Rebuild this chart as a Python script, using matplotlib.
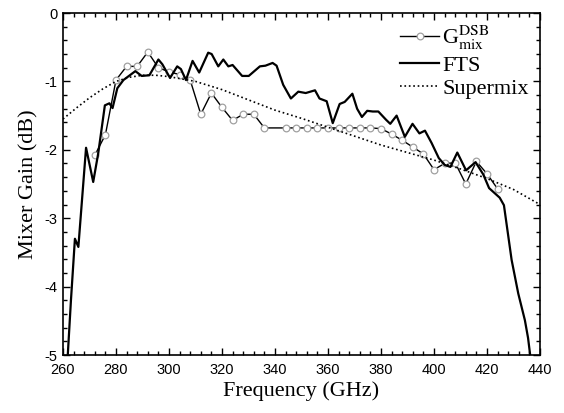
import numpy as np
import matplotlib
matplotlib.use("Agg")
import matplotlib.pyplot as plt
from matplotlib.ticker import MultipleLocator

# Gmix DSB (measured points, 4 GHz step)
g_freq = [272, 276, 280, 284, 288, 292, 296, 300, 304, 308, 312, 316, 320, 324,
          328, 332, 336, 344, 348, 352, 356, 360, 364, 368, 372, 376, 380, 384,
          388, 392, 396, 400, 404, 408, 412, 416, 420, 424]
g_gain = [-2.08, -1.78, -0.98, -0.78, -0.78, -0.57, -0.80, -0.86, -0.90, -0.98,
          -1.48, -1.17, -1.38, -1.57, -1.48, -1.48, -1.68, -1.68, -1.68, -1.68,
          -1.68, -1.68, -1.68, -1.68, -1.68, -1.68, -1.69, -1.77, -1.86, -1.96,
          -2.06, -2.29, -2.20, -2.19, -2.50, -2.17, -2.35, -2.57]

# FTS curve
fts_freq = [261.8, 263.0, 264.5, 265.8, 268.7, 271.4, 273.3, 275.8, 277.5, 278.7,
            280.5, 282.8, 287.3, 289.7, 292.6, 296.0, 297.5, 300.4, 303.1, 304.5,
            306.4, 308.9, 311.4, 314.8, 316.1, 318.6, 320.5, 322.4, 324.0, 327.6,
            330.1, 334.3, 336.4, 339.1, 340.6, 343.1, 346.0, 348.8, 351.6, 355.1,
            356.8, 359.5, 361.8, 364.4, 366.3, 369.2, 371.0, 372.8, 374.8, 376.9,
            379.0, 381.9, 383.5, 385.9, 389.0, 391.9, 394.5, 396.6, 399.1, 401.8,
            404.0, 406.2, 408.8, 412.1, 415.7, 418.6, 420.8, 424.8, 426.4, 429.3,
            431.8, 434.3, 435.5, 436.3]
fts_gain = [-5.0, -4.2, -3.3, -3.42, -1.97, -2.47, -2.05, -1.35, -1.32, -1.39,
            -1.1, -0.98, -0.85, -0.92, -0.91, -0.68, -0.75, -0.95, -0.78, -0.82,
            -0.98, -0.70, -0.87, -0.58, -0.60, -0.78, -0.68, -0.78, -0.76, -0.92,
            -0.92, -0.78, -0.77, -0.73, -0.77, -1.05, -1.25, -1.15, -1.17, -1.13,
            -1.25, -1.29, -1.61, -1.33, -1.30, -1.18, -1.40, -1.52, -1.43, -1.44,
            -1.44, -1.56, -1.62, -1.50, -1.81, -1.62, -1.76, -1.72, -1.90, -2.12,
            -2.22, -2.25, -2.04, -2.30, -2.18, -2.36, -2.56, -2.70, -2.81, -3.61,
            -4.10, -4.49, -4.75, -5.0]

# Supermix simulation
sm_freq = [260, 265, 270, 275, 280, 285, 290, 295, 300, 310, 320, 330, 340, 350,
           360, 370, 380, 390, 400, 410, 420, 430, 440]
sm_gain = [-1.55, -1.39, -1.24, -1.11, -1.00, -0.94, -0.91, -0.91, -0.93, -1.00,
           -1.12, -1.27, -1.42, -1.54, -1.67, -1.80, -1.93, -2.04, -2.15, -2.28,
           -2.42, -2.58, -2.80]

plt.rcParams['mathtext.fontset'] = 'stix'
plt.rcParams['axes.unicode_minus'] = False
serif = 'Liberation Serif'
sans = 'Liberation Sans'

fig = plt.figure(figsize=(5.64, 4.13), dpi=100)
ax = fig.add_axes([0.1117, 0.1404, 0.8457, 0.8281])

ax.plot(g_freq, g_gain, '-', color='black', lw=1.0, marker='o', ms=4.8,
        mfc='white', mec='#a0a0a0', mew=0.9, label=r'G$_{\rm mix}^{\rm DSB}$')
ax.plot(fts_freq, fts_gain, '-', color='black', lw=1.6, label='FTS')
ax.plot(sm_freq, sm_gain, ':', color='black', lw=1.2, label='Supermix')

ax.set_xlim(260, 440)
ax.set_ylim(-5, 0)
ax.xaxis.set_major_locator(MultipleLocator(20))
ax.xaxis.set_minor_locator(MultipleLocator(4))
ax.yaxis.set_major_locator(MultipleLocator(1))
ax.yaxis.set_minor_locator(MultipleLocator(0.2))
ax.tick_params(which='both', direction='in', top=True, right=True, width=1.0)
ax.tick_params(which='major', length=5, labelsize=10.5)
ax.tick_params(axis='x', which='major', pad=6)
ax.tick_params(axis='y', which='major', pad=4)
ax.tick_params(which='minor', length=3)
for lab in ax.get_xticklabels() + ax.get_yticklabels():
    lab.set_family(sans)
for s in ax.spines.values():
    s.set_linewidth(1.2)

ax.set_xlabel('Frequency (GHz)', family=serif, fontsize=16, labelpad=3)
ax.set_ylabel('Mixer Gain (dB)', family=serif, fontsize=16, labelpad=4)

leg = ax.legend(loc='upper right', frameon=False, prop={'family': serif, 'size': 16},
                handlelength=1.75, handletextpad=0.15, labelspacing=0.12,
                borderaxespad=0.1)

fig.savefig('out.png', dpi=100)
